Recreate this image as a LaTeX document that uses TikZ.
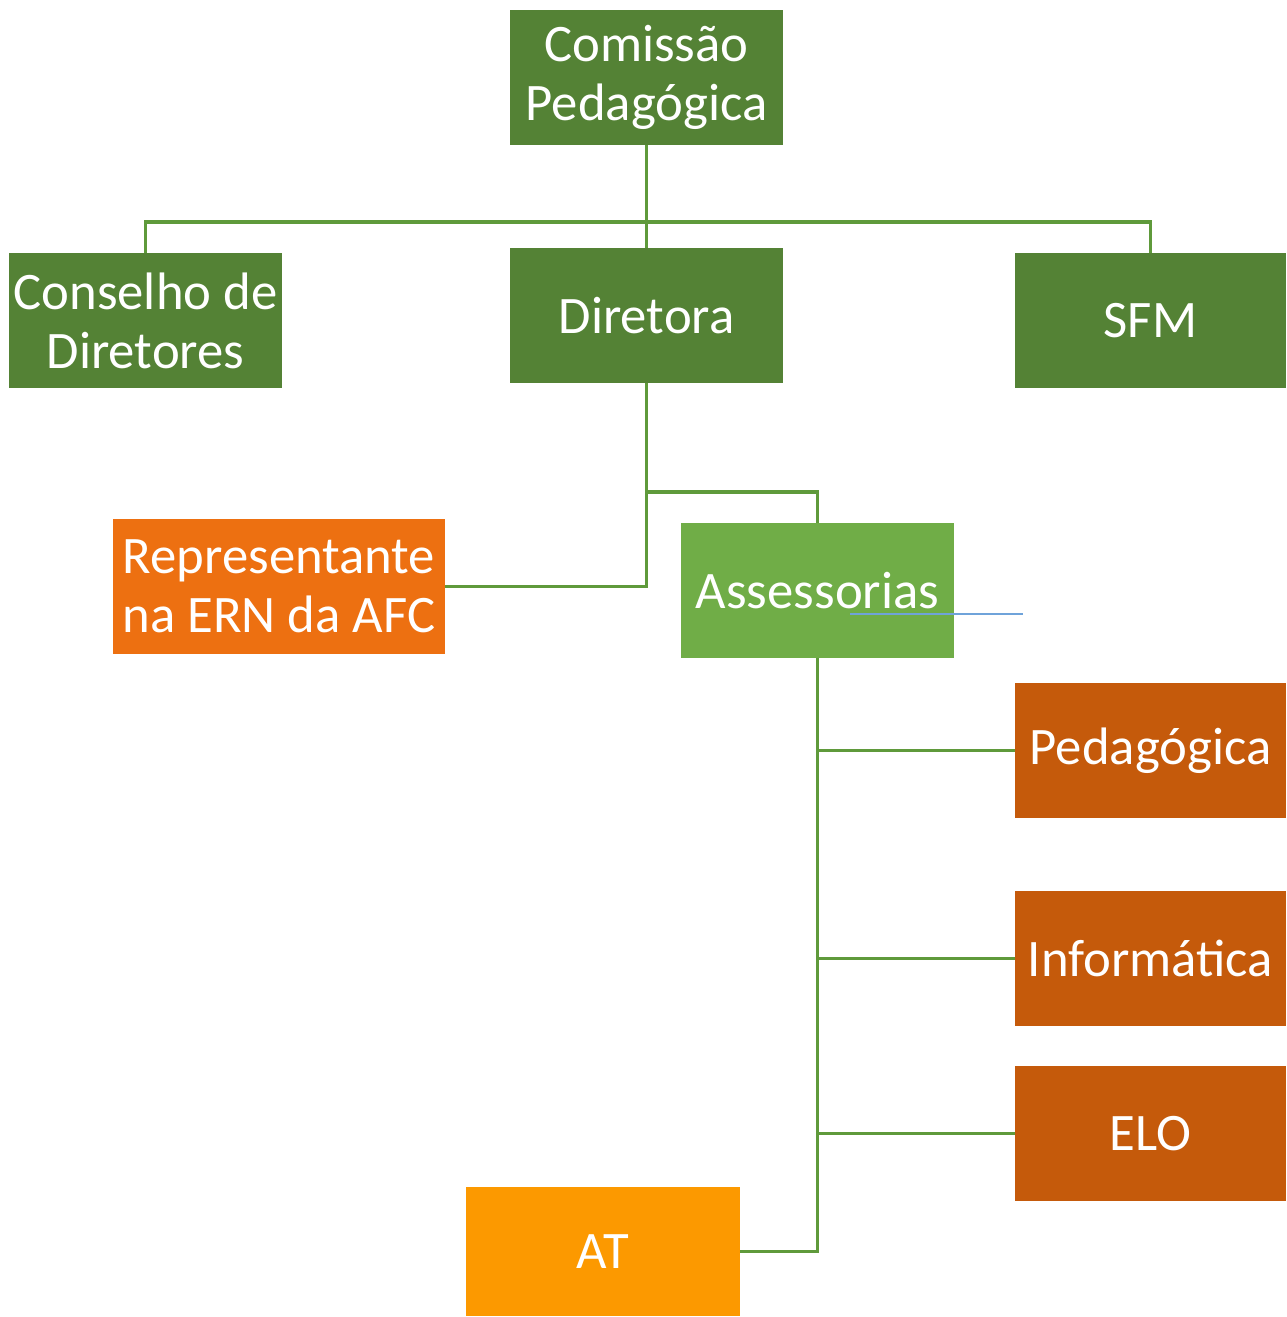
\documentclass[tikz,border=0pt]{standalone}
\usepackage{fontspec}
\setmainfont{Carlito}
\definecolor{darkgreen}{HTML}{548235}
\definecolor{lightgreen}{HTML}{70AD47}
\definecolor{repcolor}{HTML}{ED7011}
\definecolor{rustcolor}{HTML}{C55A0B}
\definecolor{atcolor}{HTML}{FC9900}
\definecolor{linkcolor}{HTML}{5F9A3B}
\definecolor{strayblue}{HTML}{6FA3DA}
\tikzset{
  unitbox/.style={draw=none,text=white,align=center,inner sep=2pt,
    minimum width=5.46cm,minimum height=2.7cm,
    font=\fontsize{30}{33.5}\selectfont},
  link/.style={draw=linkcolor,line width=1.9pt}
}
\begin{document}
\begin{tikzpicture}[x=0.02cm,y=-0.02cm]
  \useasboundingbox (0,0) rectangle (1286,1317);

  \begin{scope}[every node/.style={unitbox}]
    \node[fill=darkgreen] (comissao) at (646.5,77.5) {Comissão\\Pedagógica};
    \node[fill=darkgreen] (conselho) at (145.5,320.5) {Conselho de\\Diretores};
    \node[fill=darkgreen] (diretora) at (646.5,315.5) {Diretora};
    \node[fill=darkgreen,minimum width=5.42cm] (sfm) at (1150.5,320.5) {SFM};
    \node[fill=repcolor,minimum width=6.64cm,align=left] (repr) at (279,586.5) {Representante\\na ERN da AFC};
    \node[fill=lightgreen] (assess) at (817.5,590.5) {Assessorias};
    \node[fill=rustcolor,minimum width=5.42cm] (pedag) at (1150.5,750.5) {Pedagógica};
    \node[fill=rustcolor,minimum width=5.42cm] (inform) at (1150.5,958.5) {Informática};
    \node[fill=rustcolor,minimum width=5.42cm] (elo) at (1150.5,1133.5) {ELO};
    \node[fill=atcolor,minimum width=5.48cm,minimum height=2.58cm] (at) at (603,1251.5) {AT};
  \end{scope}

  \coordinate (bar) at (646.5,222);
  \coordinate (split) at (646.5,492);
  \coordinate (blueA) at (850,614);
  \coordinate (blueB) at (1023,614);

  \begin{scope}[every path/.style={link}]
    \path (comissao.south) edge (diretora.north);
    \draw (conselho.north) |- (bar) -| (sfm.north);
    \draw (diretora.south) |- (repr.east);
    \draw (split) -| (assess.north);
    \draw (assess.south) |- (pedag.west);
    \draw (assess.south) |- (inform.west);
    \draw (assess.south) |- (elo.west);
    \draw (assess.south) |- (at.east);
  \end{scope}

  \draw[strayblue,line width=0.8pt] (blueA) -- (blueB);

\end{tikzpicture}
\end{document}
